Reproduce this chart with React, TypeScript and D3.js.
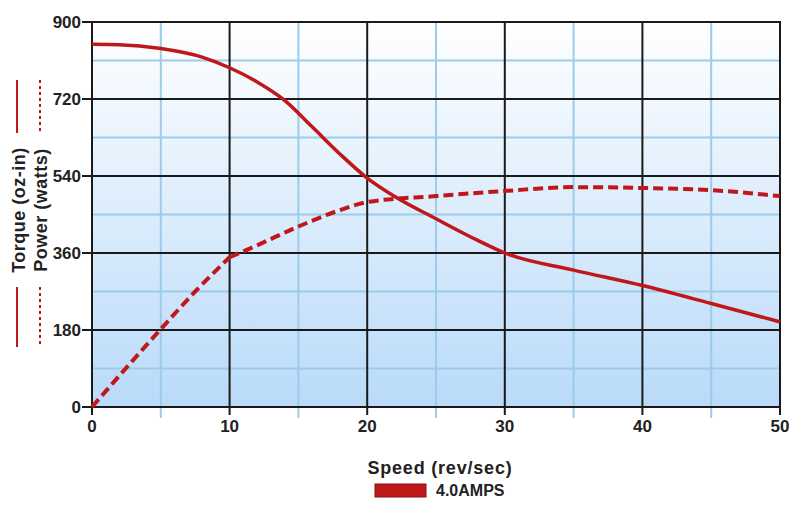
import React from "react";
import * as d3 from "d3";

const torqueSpeed = [0, 2, 5, 8, 10, 12, 14, 16, 18, 20, 22, 25, 28, 30, 35, 40, 45, 50];
const torqueValues = [848, 847, 838, 818, 793, 760, 717, 655, 592, 535, 492, 440, 390, 360, 320, 284, 242, 199];
const powerSpeed = [0, 2.5, 5, 7.5, 10, 12, 15, 18, 20, 25, 30, 35, 40, 45, 50];
const powerValues = [0, 92, 182, 270, 350, 378, 422, 460, 479, 493, 505, 514, 512, 507, 493];
const xTicks = [0, 10, 20, 30, 40, 50];
const yTicks = [0, 180, 360, 540, 720, 900];
const xMinor = [5, 15, 25, 35, 45];
const yMinor = [90, 270, 450, 630, 810];

const W = 794, H = 512;
const L = 92, R = 780, T = 22, B = 407;
const RED = "#c0171b";

export default function App() {
  const x = d3.scaleLinear().domain([0, 50]).range([L, R]);
  const y = d3.scaleLinear().domain([0, 900]).range([B, T]);
  const torque = d3.line<number>().x((_, i) => x(torqueSpeed[i])).y((d) => y(d)).curve(d3.curveMonotoneX)(torqueValues) || "";
  const p1 = powerValues.slice(0, 5);
  const p2 = powerValues.slice(4);
  const powerA = d3.line<number>().x((_, i) => x(powerSpeed[i])).y((d) => y(d)).curve(d3.curveMonotoneX)(p1) || "";
  const powerB = d3.line<number>().x((_, i) => x(powerSpeed[i + 4])).y((d) => y(d)).curve(d3.curveMonotoneX)(p2) || "";
  const font = "Arial, 'Liberation Sans', sans-serif";
  return (
    <svg width={W} height={H} style={{ position: "absolute", left: 0, top: 0 }} fontFamily={font}>
      <defs>
        <linearGradient id="bg" x1="0" y1="0" x2="0" y2="1">
          <stop offset="0" stopColor="#ffffff" />
          <stop offset="1" stopColor="#b9daf9" />
        </linearGradient>
      </defs>
      <rect x={L} y={T} width={R - L} height={B - T} fill="url(#bg)" />
      {xMinor.map((v) => (
        <line key={"xm" + v} x1={x(v)} x2={x(v)} y1={T} y2={B + 11} stroke="#9ccbeb" strokeWidth={2} />
      ))}
      {yMinor.map((v) => (
        <line key={"ym" + v} x1={L} x2={R} y1={y(v)} y2={y(v)} stroke="#9ccbeb" strokeWidth={2} />
      ))}
      {xTicks.map((v) => (
        <line key={"xt" + v} x1={x(v)} x2={x(v)} y1={T} y2={B + 8} stroke="#1a1a1a" strokeWidth={2} />
      ))}
      {yTicks.map((v) => (
        <line key={"yt" + v} x1={L - 10} x2={R} y1={y(v)} y2={y(v)} stroke="#1a1a1a" strokeWidth={2} />
      ))}
      <rect x={L} y={T} width={R - L} height={B - T} fill="none" stroke="#1a1a1a" strokeWidth={2} />
      {xTicks.map((v) => (
        <text key={"xl" + v} x={x(v)} y={B + 25} textAnchor="middle" fontSize={17} fontWeight="bold" fill="#222">{v}</text>
      ))}
      {yTicks.map((v) => (
        <text key={"yl" + v} x={L - 11} y={y(v) + 6} textAnchor="end" fontSize={17} fontWeight="bold" fill="#222">{v}</text>
      ))}
      <path d={powerA} fill="none" stroke={RED} strokeWidth={4} strokeDasharray="10 5" />
      <path d={powerB} fill="none" stroke={RED} strokeWidth={4} strokeDasharray="10 5" />
      <path d={torque} fill="none" stroke={RED} strokeWidth={3.5} />
      <text transform={`translate(25,210) rotate(-90)`} textAnchor="middle" fontSize={18} fontWeight="bold" letterSpacing={0.5} fill="#222">Torque (oz-in)</text>
      <text transform={`translate(47,210) rotate(-90)`} textAnchor="middle" fontSize={18} fontWeight="bold" letterSpacing={0.5} fill="#222">Power (watts)</text>
      <line x1={17} x2={17} y1={80} y2={133} stroke={RED} strokeWidth={2} />
      <line x1={17} x2={17} y1={287} y2={347} stroke={RED} strokeWidth={2} />
      <line x1={40} x2={40} y1={80} y2={133} stroke={RED} strokeWidth={2} strokeDasharray="3 3" />
      <line x1={40} x2={40} y1={287} y2={347} stroke={RED} strokeWidth={2} strokeDasharray="3 3" />
      <text x={440} y={474} textAnchor="middle" fontSize={18} fontWeight="bold" letterSpacing={0.8} fill="#222">Speed (rev/sec)</text>
      <rect x={375} y={484} width={51} height={13} fill={RED} stroke="#8a1012" strokeWidth={1} />
      <text x={436} y={496} fontSize={16} fontWeight="bold" fill="#222">4.0AMPS</text>
    </svg>
  );
}
